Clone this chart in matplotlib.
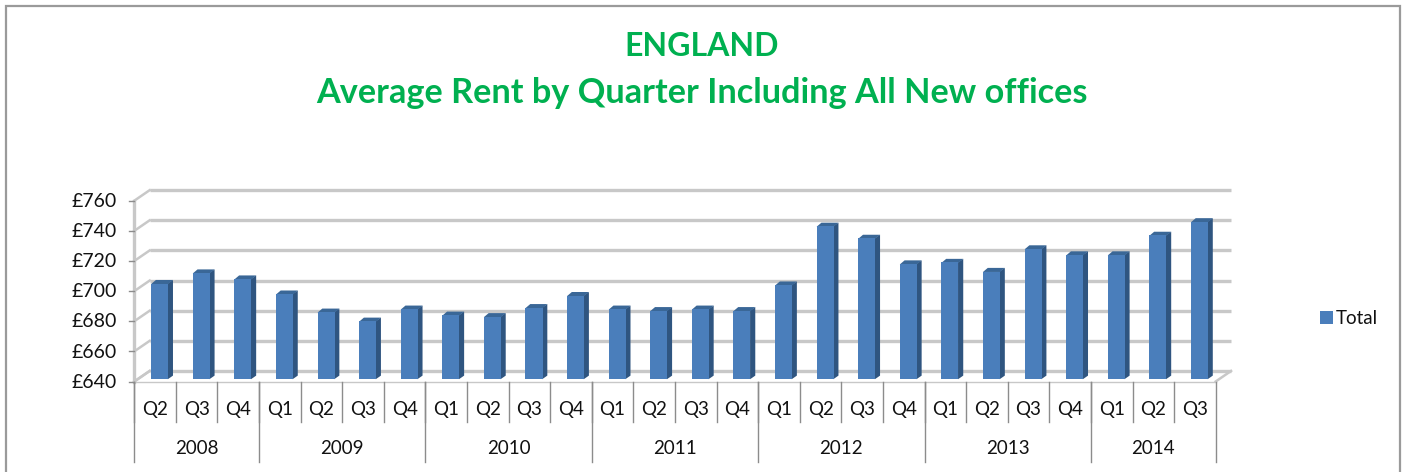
import matplotlib
matplotlib.use('Agg')
import matplotlib.pyplot as plt
from matplotlib.patches import Polygon, Rectangle
from matplotlib.transforms import blended_transform_factory

plt.rcParams['font.family'] = ['Lato', 'DejaVu Sans']

years = ['2008', '2009', '2010', '2011', '2012', '2013', '2014']
year_counts = [3, 4, 4, 4, 4, 4, 3]
quarters = ['Q2', 'Q3', 'Q4',
            'Q1', 'Q2', 'Q3', 'Q4',
            'Q1', 'Q2', 'Q3', 'Q4',
            'Q1', 'Q2', 'Q3', 'Q4',
            'Q1', 'Q2', 'Q3', 'Q4',
            'Q1', 'Q2', 'Q3', 'Q4',
            'Q1', 'Q2', 'Q3']
rent = [703.5, 710.5, 706.5,
        696.5, 684.5, 678.5, 686.5,
        682.5, 681.5, 687.5, 695.5,
        686.5, 685.5, 686.5, 685.5,
        702.5, 741.5, 733.5, 716.5,
        717.5, 711.5, 726.5, 722.5,
        722.5, 735.5, 744.5]
y_ticks = [640, 660, 680, 700, 720, 740, 760]

W, H = 1405, 472
GREY = '#c8c8c8'
DARK = '#8c8c8c'

fig = plt.figure(figsize=(W / 100, H / 100), dpi=100)
ax = fig.add_axes([134.3 / W, 1 - 381.5 / H, 1081.4 / W, 180.8 / H])
ax.set_xlim(0, len(rent))
ax.set_ylim(640, 760)
ax.axis('off')

# fake 3d depth, in data units
wall_dx, wall_dy = 0.37, 7.0
bar_dx, bar_dy = 0.115, 2.4
bar_w = 0.41
shift_x, shift_y = 0.11, 1.5

# back wall, floor and left wall
for t in y_ticks:
    ax.plot([wall_dx, len(rent) + wall_dx], [t + wall_dy, t + wall_dy], color=GREY, lw=2.4,
            clip_on=False, zorder=1, solid_capstyle='butt')
    ax.plot([0, wall_dx], [t, t + wall_dy], color=GREY, lw=1.8, clip_on=False, zorder=1)
    ax.plot([-0.13, 0], [t, t], color=DARK, lw=1, clip_on=False, zorder=2)
    ax.text(-0.41, t - 0.5, '£%d' % t, ha='right', va='center', fontsize=14, color='#111111')
ax.plot([0, 0], [640, 760], color=GREY, lw=2.4, clip_on=False, zorder=1)
ax.plot([wall_dx, 0], [640 + wall_dy, 640], color=GREY, lw=1.8, clip_on=False, zorder=1)
ax.plot([len(rent) + wall_dx, len(rent)], [640 + wall_dy, 640], color=GREY, lw=1.8, clip_on=False, zorder=1)
ax.plot([0, len(rent)], [640, 640], color=GREY, lw=1, clip_on=False, zorder=1)

# bars: front face from ax.bar, then side and top faces
xs = [i + 0.5 + shift_x for i in range(len(rent))]
bars = ax.bar(xs, [v - 640 for v in rent], width=bar_w, bottom=640 + shift_y, color='#4a7ebb',
              label='Total', zorder=5, clip_on=False)
for x, v in zip(xs, rent):
    r = x + bar_w / 2
    l = x - bar_w / 2
    top = v + shift_y
    ax.add_patch(Polygon([(r - 0.01, 640 + shift_y), (r + bar_dx, 640 + shift_y + bar_dy),
                          (r + bar_dx, top + bar_dy), (r - 0.01, top)],
                         closed=True, color='#2f5580', lw=0, zorder=4, clip_on=False))
    ax.add_patch(Polygon([(l, top - 0.3), (l + bar_dx, top + bar_dy), (r + bar_dx, top + bar_dy), (r, top - 0.3)],
                         closed=True, color='#3a6797', lw=0, zorder=4, clip_on=False))

# two level category axis under the floor
tr = blended_transform_factory(ax.transData, ax.transAxes)
q_low = -40.5 / 180.8
y_low = -80.5 / 180.8
q_mid = -28.5 / 180.8
y_mid = -67.5 / 180.8
for i, q in enumerate(quarters):
    ax.plot([i, i], [0, q_low], transform=tr, color=DARK, lw=1, clip_on=False)
    ax.text(i + 0.5, q_mid, q, transform=tr, ha='center', va='center', fontsize=13.5, color='#111111')
pos = 0
for y, n in zip(years, year_counts):
    ax.plot([pos, pos], [0, y_low], transform=tr, color=DARK, lw=1, clip_on=False)
    ax.text(pos + n / 2, y_mid, y, transform=tr, ha='center', va='center', fontsize=13.5, color='#111111')
    pos += n
ax.plot([pos, pos], [0, y_low], transform=tr, color=DARK, lw=1, clip_on=False)

# titles
fig.text(702 / W, 1 - 47 / H, 'ENGLAND', ha='center', va='center', fontsize=23, fontweight='bold', color='#00b050')
fig.text(702 / W, 1 - 93 / H, 'Average Rent by Quarter Including All New offices', ha='center', va='center',
         fontsize=24.7, fontweight='bold', color='#00b050')

fig.legend(handles=[bars], loc='center left', bbox_to_anchor=(1320 / W, 1 - 319 / H), frameon=False,
           fontsize=13.5, handlelength=0.68, handleheight=0.68, handletextpad=0.15, borderpad=0, borderaxespad=0,
           labelcolor='#111111')

# chart frame, the bottom edge is cut off by the image
fig.add_artist(Rectangle((6 / W, -0.05), 1394 / W, 1.05 - 6 / H, transform=fig.transFigure,
                         fill=False, edgecolor='#9a9a9a', lw=1.6))

fig.savefig('out.png', dpi=100)
